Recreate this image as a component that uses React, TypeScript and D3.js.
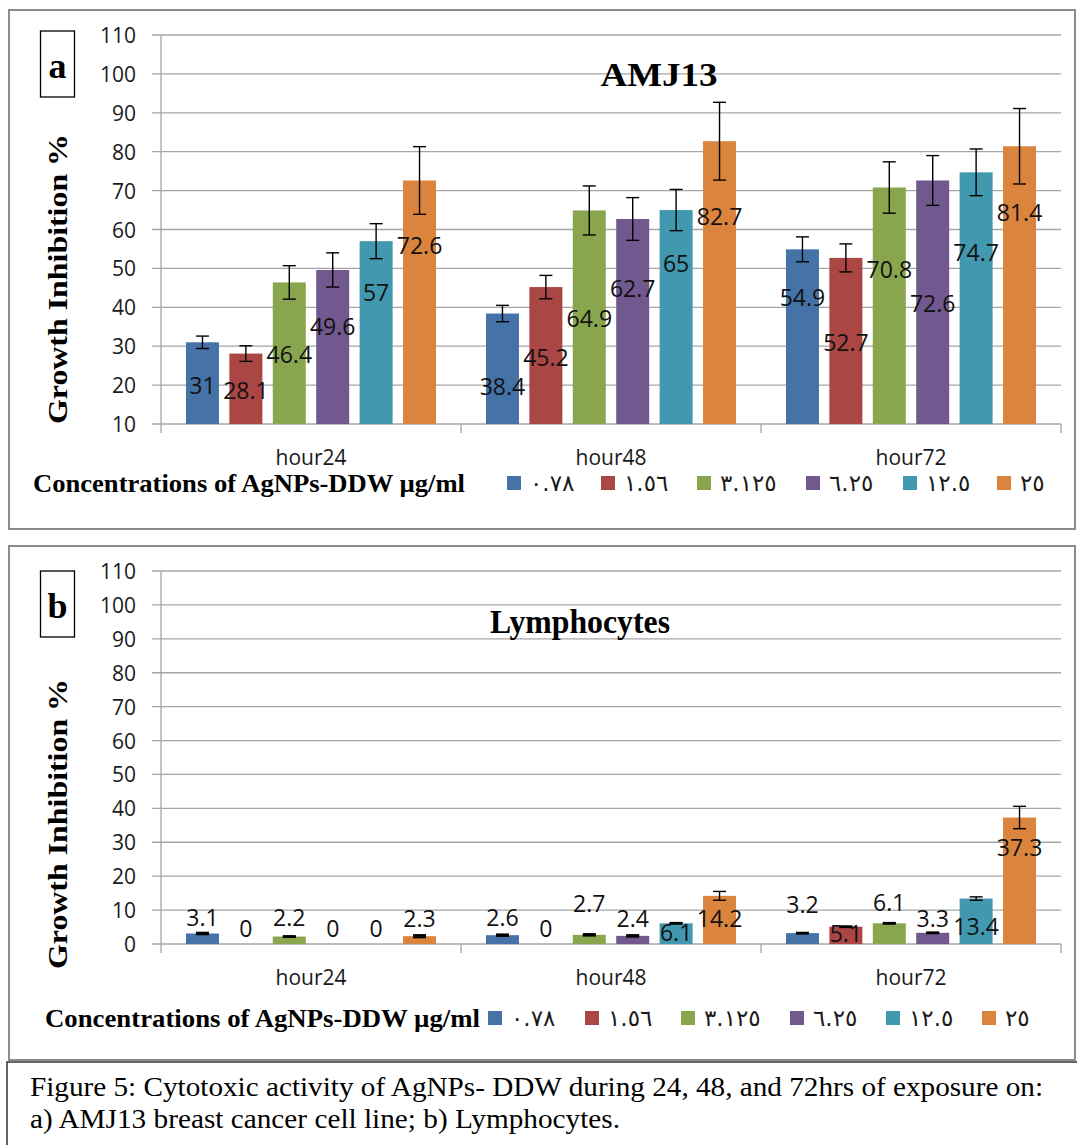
import React, { useEffect } from "react";
import * as d3 from "d3";

// hours of exposure (x categories)
const categories = ["hour24", "hour48", "hour72"];
// AgNPs-DDW concentrations (µg/ml), written as in the legend
const concentrations = ["٠.٧٨", "١.٥٦", "٣.١٢٥", "٦.٢٥", "١٢.٥", "٢٥"];
const colors = ["#4572A7", "#AA4643", "#89A54E", "#71588F", "#4198AF", "#DB843D"];

// panel a: AMJ13, one row per concentration, one value per hour
const amjValues = [
  [31, 38.4, 54.9],
  [28.1, 45.2, 52.7],
  [46.4, 64.9, 70.8],
  [49.6, 62.7, 72.6],
  [57, 65, 74.7],
  [72.6, 82.7, 81.4],
];
const amjErrors = [
  [1.6, 2.1, 3.2],
  [2.0, 3.0, 3.6],
  [4.3, 6.3, 6.6],
  [4.4, 5.5, 6.4],
  [4.5, 5.3, 6.0],
  [8.7, 10, 9.7],
];
// where each data label sits, in axis units
const amjLabelAt = [
  [20.0, 19.8, 42.7],
  [18.7, 27.3, 31.2],
  [28.0, 37.2, 49.8],
  [35.2, 45.0, 41.1],
  [44.0, 51.5, 54.2],
  [56.0, 63.5, 64.5],
];
const amjTicks = [10, 20, 30, 40, 50, 60, 70, 80, 90, 100, 110];

// panel b: Lymphocytes
const lymphValues = [
  [3.1, 2.6, 3.2],
  [0, 0, 5.1],
  [2.2, 2.7, 6.1],
  [0, 2.4, 3.3],
  [0, 6.1, 13.4],
  [2.3, 14.2, 37.3],
];
const lymphErrors = [
  [0.2, 0.2, 0.1],
  [0, 0, 0.1],
  [0.1, 0.2, 0.1],
  [0, 0.2, 0.1],
  [0, 0.1, 0.5],
  [0.3, 1.3, 3.3],
];
const lymphLabelAt = [
  [8.0, 8.0, 11.8],
  [4.6, 4.6, 3.1],
  [8.0, 12.0, 12.3],
  [4.6, 7.8, 7.8],
  [4.6, 3.4, 5.3],
  [7.7, 7.7, 28.6],
];
const lymphTicks = [0, 10, 20, 30, 40, 50, 60, 70, 80, 90, 100, 110];

const sans = "'Open Sans', 'Noto Sans', sans-serif";
const serif = "'Liberation Serif', 'Times New Roman', serif";
const arabic = "'DejaVu Sans', sans-serif";

function Panel({ top, bottom, domain, ticks, values, errors, labelAt, title, titleX, titleY, titleLen, letter, letterTop, axisTitleY, legendY, legendTextX, legendTextLen, legendSquares }) {
  const left = 161;
  const right = 1061;
  const x = d3.scaleBand().domain(categories).range([left, right]).padding(0);
  const inner = d3.scaleBand().domain(d3.range(concentrations.length)).range([0, x.bandwidth()]).paddingInner(0.24).paddingOuter(0.575);
  const y = d3.scaleLinear().domain(domain).range([bottom, top]);
  const bw = inner.bandwidth();

  return (
    <g>
      {/* gridlines */}
      {ticks.map((t) => (
        <g key={t}>
          <line x1={left - 9} x2={right} y1={y(t)} y2={y(t)} stroke="#a6a6a6" strokeWidth={1.3} />
          <text x={136} y={y(t)} textAnchor="end" dominantBaseline="central" fontFamily={sans} fontSize={21} fill="#1a1a1a">{t}</text>
        </g>
      ))}
      <line x1={left} x2={left} y1={top} y2={bottom} stroke="#a6a6a6" strokeWidth={1.3} />
      {[...categories.map((c) => x(c)), right].map((xx, i) => (
        <line key={i} x1={xx} x2={xx} y1={bottom} y2={bottom + 9} stroke="#a6a6a6" strokeWidth={1.3} />
      ))}
      {categories.map((c) => (
        <text key={c} x={x(c) + x.bandwidth() / 2} y={bottom + 33} textAnchor="middle" dominantBaseline="central" fontFamily={sans} fontSize={21} fill="#1a1a1a">{c}</text>
      ))}

      {/* bars */}
      {values.map((row, s) =>
        row.map((v, c) => {
          const bx = x(categories[c]) + inner(s);
          return v > 0 ? (
            <rect key={`b${s}-${c}`} x={bx} y={y(v)} width={bw} height={y(domain[0]) - y(v)} fill={colors[s]} />
          ) : null;
        })
      )}
      {/* error bars */}
      {values.map((row, s) =>
        row.map((v, c) => {
          const e = errors[s][c];
          if (v <= 0) return null;
          const cx = x(categories[c]) + inner(s) + bw / 2;
          const y1 = y(v + e);
          const y2 = y(v - e);
          const thin = y2 - y1 < 3;
          return (
            <g key={`e${s}-${c}`} stroke="#000" strokeWidth={thin ? 2.2 : 1.4}>
              <line x1={cx} x2={cx} y1={y1} y2={y2} />
              <line x1={cx - 6.5} x2={cx + 6.5} y1={y1} y2={y1} />
              <line x1={cx - 6.5} x2={cx + 6.5} y1={y2} y2={y2} />
            </g>
          );
        })
      )}
      {/* data labels */}
      {values.map((row, s) =>
        row.map((v, c) => (
          <text key={`l${s}-${c}`} x={x(categories[c]) + inner(s) + bw / 2} y={y(labelAt[s][c])} textAnchor="middle" dominantBaseline="central" fontFamily={sans} fontSize={23} fill="#111">{v}</text>
        ))
      )}

      {/* title and panel letter */}
      <text x={titleX} y={titleY} textAnchor="middle" dominantBaseline="central" fontFamily={serif} fontWeight="bold" fontSize={33} textLength={titleLen} lengthAdjust="spacingAndGlyphs">{title}</text>
      <rect x={40.5} y={letterTop} width={34} height={66} fill="#fff" stroke="#000" strokeWidth={1.3} />
      <text x={57.5} y={letterTop + 35} textAnchor="middle" dominantBaseline="central" fontFamily={serif} fontWeight="bold" fontSize={36}>{letter}</text>

      {/* y axis title */}
      <text transform={`translate(57,${axisTitleY}) rotate(-90)`} textAnchor="middle" dominantBaseline="central" fontFamily={serif} fontWeight="bold" fontSize={28} textLength={290} lengthAdjust="spacingAndGlyphs">Growth Inhibition %</text>

      {/* legend */}
      <text x={legendTextX} y={legendY} dominantBaseline="central" fontFamily={serif} fontWeight="bold" fontSize={25} textLength={legendTextLen} lengthAdjust="spacingAndGlyphs">Concentrations of AgNPs-DDW µg/ml</text>
      {concentrations.map((k, i) => (
        <g key={k}>
          <rect x={legendSquares[i]} y={legendY - 7} width={14} height={14} fill={colors[i]} />
          <text x={legendSquares[i] + 23} y={legendY} dominantBaseline="central" fontFamily={arabic} fontSize={23} fill="#1a1a1a" direction="ltr">{k}</text>
        </g>
      ))}
    </g>
  );
}

export default function App() {
  useEffect(() => {
    document.body.style.margin = "0";
  }, []);

  return (
    <svg width={1077} height={1145} style={{ display: "block", background: "#fff" }}>
      <rect x={9} y={10} width={1066} height={519} fill="#fff" stroke="#8c8c8c" strokeWidth={2} />
      <rect x={9} y={546} width={1066} height={514} fill="#fff" stroke="#8c8c8c" strokeWidth={2} />
      <rect x={7} y={1062} width={1072} height={90} fill="#fff" stroke="#333" strokeWidth={1.5} />

      <Panel
        top={35}
        bottom={424}
        domain={[10, 110]}
        ticks={amjTicks}
        values={amjValues}
        errors={amjErrors}
        labelAt={amjLabelAt}
        title="AMJ13"
        titleX={659}
        titleY={75}
        titleLen={117}
        letter="a"
        letterTop={31}
        axisTitleY={279}
        legendY={483}
        legendTextX={33}
        legendTextLen={432}
        legendSquares={[507, 601, 697, 806, 903, 997]}
      />
      <Panel
        top={571}
        bottom={944}
        domain={[0, 110]}
        ticks={lymphTicks}
        values={lymphValues}
        errors={lymphErrors}
        labelAt={lymphLabelAt}
        title="Lymphocytes"
        titleX={580}
        titleY={622}
        titleLen={180}
        letter="b"
        letterTop={571}
        axisTitleY={824}
        legendY={1018}
        legendTextX={45}
        legendTextLen={435}
        legendSquares={[488, 585, 681, 790, 886, 982]}
      />

      <text x={30} y={1086} dominantBaseline="central" fontFamily={serif} fontSize={28} textLength={1013} lengthAdjust="spacingAndGlyphs">Figure 5: Cytotoxic activity of AgNPs- DDW during 24, 48, and 72hrs of exposure on:</text>
      <text x={30} y={1118} dominantBaseline="central" fontFamily={serif} fontSize={28} textLength={590} lengthAdjust="spacingAndGlyphs">a) AMJ13 breast cancer cell line; b) Lymphocytes.</text>
    </svg>
  );
}
